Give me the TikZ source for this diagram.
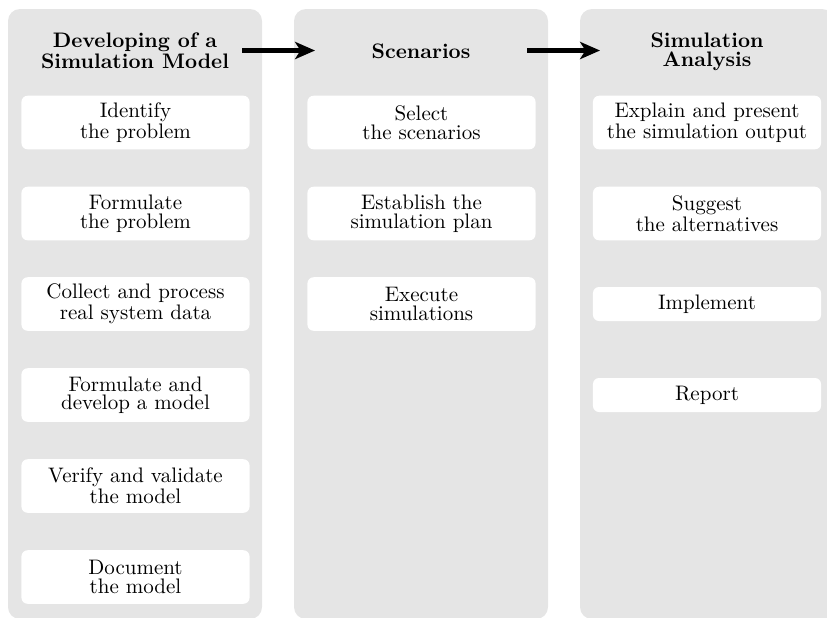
\documentclass[tikz,border=0pt]{standalone}
\usetikzlibrary{arrows.meta}
\definecolor{colfill}{gray}{0.9}
\tikzset{
  column/.style={fill=colfill, rounded corners=5.7pt},
  head/.style={align=center, font=\fontsize{10}{8.8}\selectfont\bfseries, inner sep=0pt},
  box/.style={fill=white, rounded corners=2.9pt, minimum width=108.6pt, align=center,
    inner xsep=2pt, inner ysep=0pt, font=\fontsize{10}{8.8}\selectfont},
  twoline/.style={box, minimum height=25.5pt},
  oneline/.style={box, minimum height=16.2pt},
  flow/.style={line width=2.5pt, -{Stealth[length=9.5pt,width=8.2pt,inset=2.6pt]}}
}
\begin{document}
\begin{tikzpicture}[x=0.4762pt,y=-0.4762pt]
\useasboundingbox (0,0) rectangle (827,617);
% columns
\fill[column] (8,9) rectangle (262,619);
\fill[column] (294,9) rectangle (548,619);
\fill[column] (580,9) rectangle (834,619);
% headers
\node[head] (h1) at (135,50.5) {Developing of a\\Simulation Model};
\node[head] (h2) at (421,51) {Scenarios};
\node[head] (h3) at (707,52) {Simulation\\Analysis};
% arrows
\coordinate (a1s) at (242,50.5);
\coordinate (a1e) at (315,50.5);
\coordinate (a2s) at (527,50.5);
\coordinate (a2e) at (600,50.5);
\draw[flow] (a1s) -- (a1e);
\draw[flow] (a2s) -- (a2e);
% left column
\node[twoline] (l1) at (135.5,122.5) {Identify\\the problem};
\node[twoline] (l2) at (135.5,213.5) {Formulate\\the problem};
\node[twoline] (l3) at (135.5,304) {Collect and process\\real system data};
\node[twoline] (l4) at (135.5,395) {Formulate and\\develop a model};
\node[twoline] (l5) at (135.5,486) {Verify and validate\\the model};
\node[twoline] (l6) at (135.5,577) {Document\\the model};
% middle column
\node[twoline] (m1) at (421.5,122.5) {Select\\the scenarios};
\node[twoline] (m2) at (421.5,213.5) {Establish the\\simulation plan};
\node[twoline] (m3) at (421.5,304) {Execute\\simulations};
% right column
\node[twoline] (r1) at (707,122.5) {Explain and present\\the simulation output};
\node[twoline] (r2) at (707,213.5) {Suggest\\the alternatives};
\node[oneline] (r3) at (707,304) {Implement};
\node[oneline] (r4) at (707,395) {Report};
\end{tikzpicture}
\end{document}
